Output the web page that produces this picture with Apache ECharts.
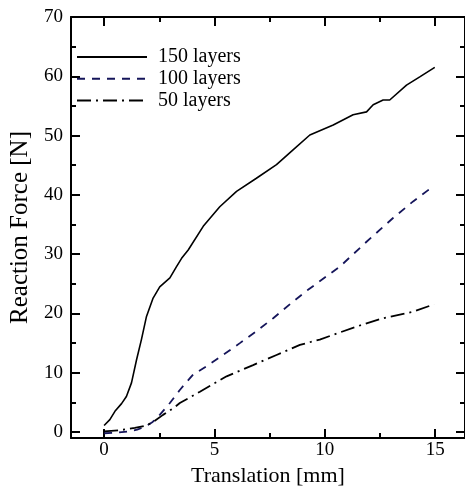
<!DOCTYPE html>
<html>
<head>
<meta charset="utf-8">
<script src="https://cdn.jsdelivr.net/npm/echarts@6/dist/echarts.min.js"></script>
<style>
  html, body { margin: 0; padding: 0; background: #fff; }
  #chart { width: 465px; height: 488px; }
</style>
</head>
<body>
<div id="chart"></div>
<script>
// values
const x150 = [0, 0.26, 0.49, 0.79, 1.01, 1.24, 1.47, 1.69, 1.92, 2.22, 2.52, 2.98, 3.28, 3.51, 3.81, 4.49, 5.24, 6.0, 6.9, 7.81, 8.56, 9.32, 10.38, 11.28, 11.89, 12.19, 12.64, 12.94, 13.7, 14.3, 14.98];
const y150 = [1.1, 2.1, 3.5, 4.8, 6.0, 8.3, 12.2, 15.6, 19.5, 22.6, 24.5, 26.0, 27.9, 29.3, 30.7, 34.7, 38.0, 40.6, 42.8, 45.1, 47.6, 50.1, 51.8, 53.5, 54.0, 55.2, 56.0, 56.0, 58.5, 59.9, 61.5];

const x100 = [0, 0.5, 1.09, 1.5, 1.84, 2.2, 2.52, 2.98, 3.43, 4.03, 4.64, 5.39, 6.15, 6.9, 7.66, 8.56, 9.24, 10.68, 11.89, 13.09, 14.0, 14.68, 14.95];
const y100 = [-0.2, -0.1, 0.1, 0.4, 0.9, 1.7, 2.9, 4.9, 7.1, 9.7, 11.1, 13.0, 15.0, 17.0, 19.2, 22.0, 24.0, 27.9, 32.1, 36.1, 38.9, 40.8, 41.3];

const x50 = [0, 0.7, 1.39, 1.8, 2.15, 2.67, 3.2, 3.43, 4.34, 5.55, 6.75, 7.81, 8.87, 9.77, 11.44, 12.64, 14.0, 14.76, 14.95];
const y50 = [0.1, 0.3, 0.7, 1.0, 1.5, 2.9, 4.2, 4.9, 6.8, 9.4, 11.3, 13.0, 14.7, 15.6, 17.8, 19.2, 20.3, 21.3, 21.5];

const xMajor = [0, 5, 10, 15];
const xMinor = [2.5, 7.5, 12.5];
const yMajor = [0, 10, 20, 30, 40, 50, 60, 70];
const yMinor = [5, 15, 25, 35, 45, 55, 65];

const FONT = 'Liberation Serif';
const pairs = (xs, ys) => xs.map((v, i) => [v, ys[i]]);

// one axis per side for major ticks (with line), one more for the short minor ticks
function axis(position, min, max, ticks, len, withLine, withLabel) {
  return {
    type: 'value',
    position: position,
    min: min,
    max: max,
    axisLine: { show: withLine, onZero: false, lineStyle: { color: '#000', width: 2 } },
    axisTick: { show: true, inside: true, length: len, customValues: ticks, lineStyle: { color: '#000', width: 2 } },
    axisLabel: withLabel
      ? { show: true, customValues: ticks, color: '#000', fontFamily: FONT, fontSize: 19, margin: 8 }
      : { show: false },
    splitLine: { show: false }
  };
}

const xAxes = [
  axis('bottom', -1.5, 16.35, xMajor, 9, true, true),
  axis('bottom', -1.5, 16.35, xMinor, 5, false, false),
  axis('top', -1.5, 16.35, xMajor, 9, true, false),
  axis('top', -1.5, 16.35, xMinor, 5, false, false)
];
xAxes[0].name = 'Translation [mm]';
xAxes[0].nameLocation = 'middle';
xAxes[0].nameGap = 18;
xAxes[0].nameTextStyle = { color: '#000', fontFamily: FONT, fontSize: 22 };
xAxes[0].axisLabel.margin = 3;

const yAxes = [
  axis('left', -1, 70, yMajor, 9, true, true),
  axis('left', -1, 70, yMinor, 5, false, false),
  axis('right', -1, 70, yMajor, 9, true, false),
  axis('right', -1, 70, yMinor, 5, false, false)
];
yAxes[0].name = 'Reaction Force [N]';
yAxes[0].nameLocation = 'middle';
yAxes[0].nameGap = 34;
yAxes[0].nameTextStyle = { color: '#000', fontFamily: FONT, fontSize: 25 };

const chart = echarts.init(document.getElementById('chart'), null, { renderer: 'canvas' });
chart.setOption({
  animation: false,
  backgroundColor: '#fff',
  grid: { left: 71, top: 17, width: 394, height: 421, containLabel: false, outerBoundsMode: 'none' },
  xAxis: xAxes,
  yAxis: yAxes,
  legend: {
    orient: 'vertical',
    left: 76,
    top: 47,
    padding: 0,
    itemWidth: 70,
    itemHeight: 14,
    itemGap: 1.7,
    itemStyle: { opacity: 0 },
    textStyle: { color: '#000', fontFamily: FONT, fontSize: 20, padding: [0, 0, 0, 6] },
    data: ['150 layers', '100 layers', '50 layers']
  },
  series: [
    {
      name: '150 layers', type: 'line', symbol: 'none',
      data: pairs(x150, y150),
      lineStyle: { color: '#000', width: 1.6, type: 'solid' },
      itemStyle: { color: '#000' }
    },
    {
      name: '100 layers', type: 'line', symbol: 'none',
      data: pairs(x100, y100),
      lineStyle: { color: '#15155a', width: 1.8, type: [8, 7] },
      itemStyle: { color: '#15155a' }
    },
    {
      name: '50 layers', type: 'line', symbol: 'none',
      data: pairs(x50, y50),
      lineStyle: { color: '#000', width: 1.8, type: [14, 5, 2, 5] },
      itemStyle: { color: '#000' }
    }
  ]
});
</script>
</body>
</html>
